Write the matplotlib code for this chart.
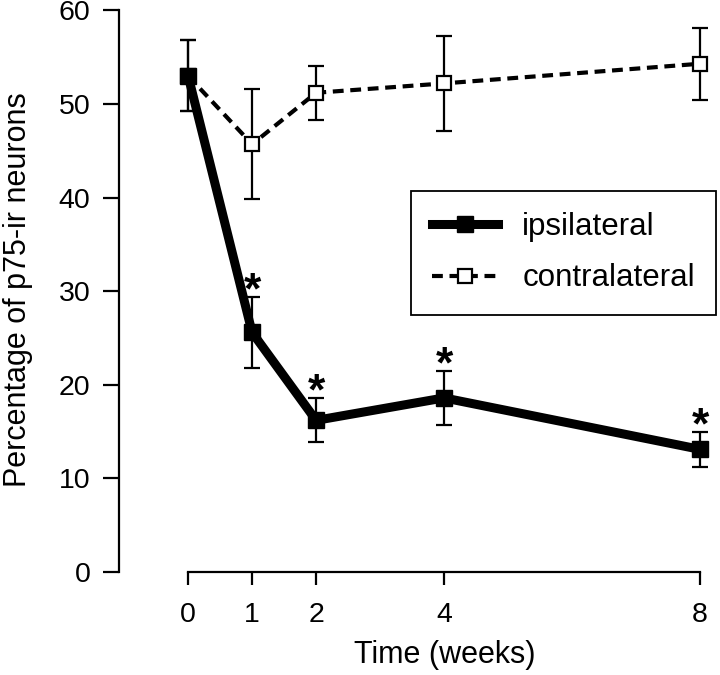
import numpy as np
import matplotlib.pyplot as plt

plt.rcParams['font.family'] = ['Liberation Sans', 'DejaVu Sans']

weeks = [0, 1, 2, 4, 8]
ipsi = [53.0, 25.6, 16.2, 18.6, 13.1]
ipsi_err = [3.8, 3.8, 2.35, 2.9, 1.85]
contra = [53.0, 45.7, 51.2, 52.2, 54.3]
contra_err = [3.8, 5.9, 2.9, 5.05, 3.85]
signif = [False, True, True, True, True]

fig = plt.figure(figsize=(7.2, 6.75), dpi=100)
ax = fig.add_axes([119 / 720, 103 / 675, 593.9 / 720, 566.3 / 675])

ax.errorbar(weeks, contra, yerr=contra_err, fmt='none', ecolor='black',
            elinewidth=1.6, capsize=5.5, capthick=1.6, zorder=2)
ax.errorbar(weeks, ipsi, yerr=ipsi_err, fmt='none', ecolor='black',
            elinewidth=1.6, capsize=5.5, capthick=1.6, zorder=2)
ax.plot(weeks, contra, color='black', lw=3, dashes=(2.6, 1.6),
        marker='s', markersize=10.5, markerfacecolor='white',
        markeredgecolor='black', markeredgewidth=1.6,
        label='contralateral', zorder=3)
ax.plot(weeks, ipsi, color='black', lw=6.5, marker='s', markersize=11.5,
        label='ipsilateral', zorder=4)

# significance stars above the ipsilateral error bars
for x, y, e, s in zip(weeks, ipsi, ipsi_err, signif):
    if s:
        ax.annotate('*', (x, y + e), xytext=(0, -4.5), textcoords='offset points',
                    ha='center', va='baseline', fontsize=32, fontweight='bold')

ax.set_xlim(-1.08, 8.2)
ax.set_ylim(0, 60.5)
ax.set_xticks(weeks)
ax.set_yticks(range(0, 61, 10))
for side in ['top', 'right']:
    ax.spines[side].set_visible(False)
ax.spines['left'].set_bounds(0, 60)
ax.spines['bottom'].set_bounds(0, 8)
for side in ['left', 'bottom']:
    ax.spines[side].set_linewidth(1.6)
ax.tick_params(axis='y', direction='out', length=11.5, width=1.6,
               pad=9, labelsize=20.5)
ax.tick_params(axis='x', direction='out', length=9.5, width=1.6,
               pad=12, labelsize=20.5)

ax.set_xlabel('Time (weeks)', fontsize=22)
ax.xaxis.set_label_coords(0.549, -0.1466)
ax.xaxis.label.set_va('center')
ax.set_ylabel('Percentage of p75-ir neurons', fontsize=22)
ax.yaxis.set_label_coords(-0.170, 0.498)
ax.yaxis.label.set_va('center')

handles, labels = ax.get_legend_handles_labels()
leg = ax.legend(handles[::-1], labels[::-1], loc='upper left',
                bbox_to_anchor=(411 / 720, 1 - 191 / 675),
                bbox_transform=fig.transFigure, fontsize=22.5,
                frameon=True, fancybox=False, framealpha=1,
                edgecolor='black', numpoints=1, handlelength=2.1,
                handletextpad=0.78, labelspacing=0.68, borderpad=0.68,
                borderaxespad=0)
leg.get_frame().set_linewidth(1.3)

fig.savefig('out.png', dpi=100)
